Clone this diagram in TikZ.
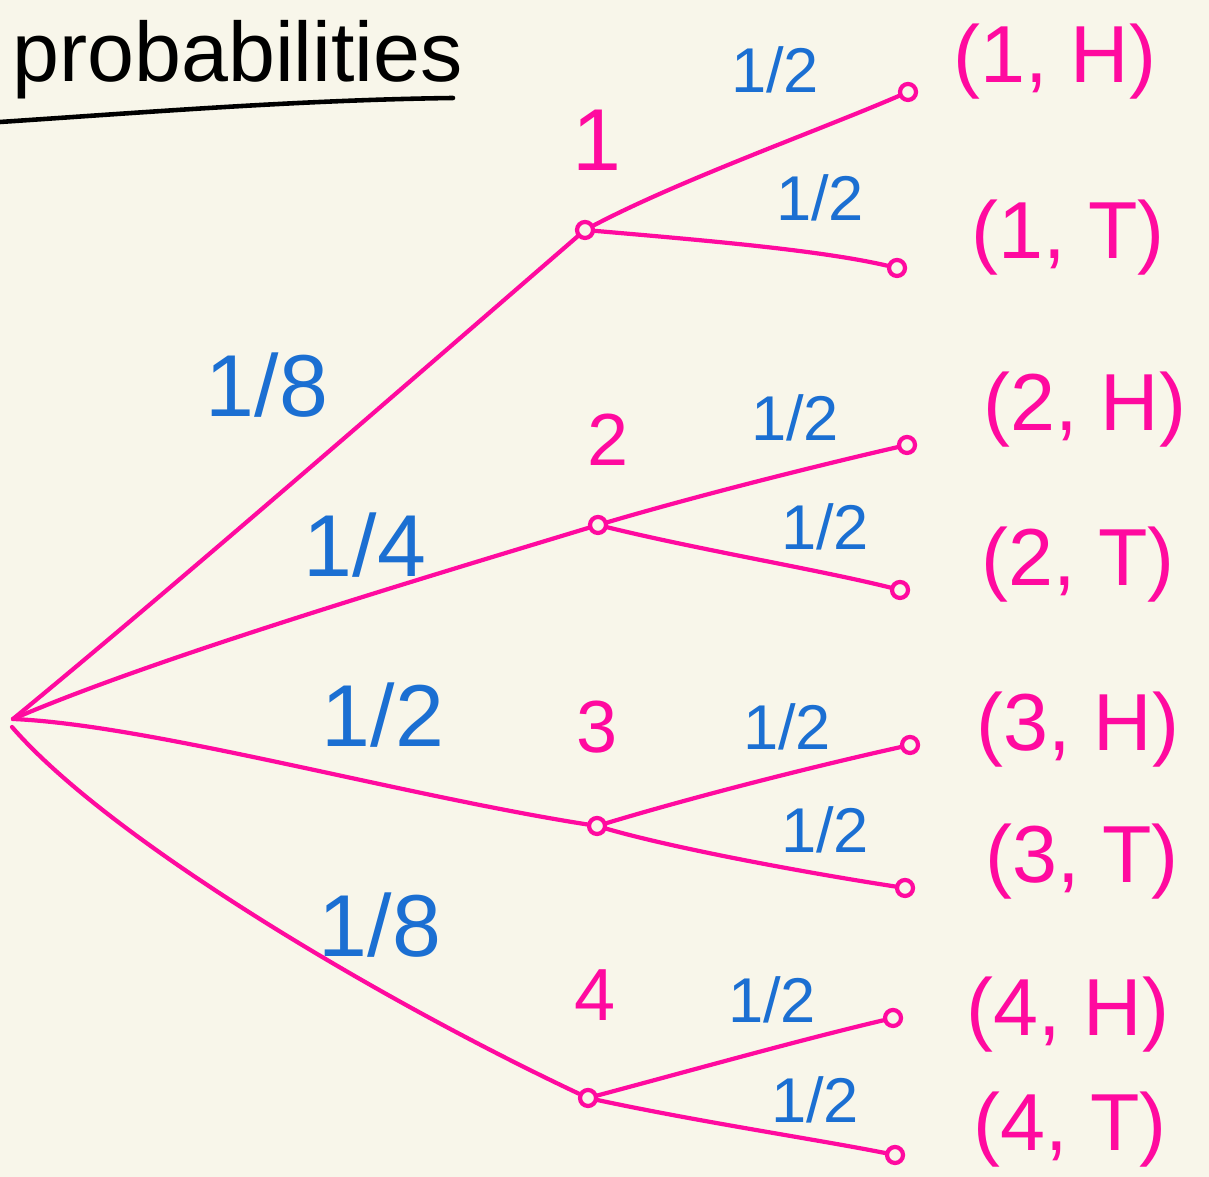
\documentclass[tikz,border=0pt]{standalone}
\usepackage{fontspec}
\setmainfont{Liberation Sans}
\usetikzlibrary{positioning}

\definecolor{paper}{HTML}{F8F6EA}
\definecolor{pinkline}{HTML}{FF0A9F}
\definecolor{blueink}{HTML}{1B6FD2}

\tikzset{
    branch/.style={pinkline, line width=1.2pt, line cap=round},
    dot/.style={circle, draw=pinkline, line width=1.2pt, fill=paper, inner sep=0pt, minimum size=0.16cm},
    prob/.style={text=blueink, font=\fontsize{18}{20}\selectfont},
    bigprob/.style={text=blueink, font=\fontsize{25}{27}\selectfont},
    outcome/.style={text=pinkline, font=\fontsize{23}{26}\selectfont},
    firstpick/.style={text=pinkline, font=\fontsize{21}{24}\selectfont}
}

\begin{document}
\begin{tikzpicture}[x=0.01cm, y=-0.01cm]
    \fill[paper] (0,0) rectangle (1209,1177);
    \useasboundingbox (0,0) rectangle (1209,1177);

    % title
    \node[anchor=base west, font=\fontsize{24}{26}\selectfont] (title) at (0,82) {probabilities};
    \draw[line width=1.3pt, line cap=round] (0,122) .. controls (150,112) and (300,100) .. (453,98);

    % root and first stage
    \coordinate (root) at (13,719);
    \coordinate (rootb) at (12,727);
    \node[dot] (n1) at (585,230) {};
    \node[dot] (n2) at (598,525) {};
    \node[dot] (n3) at (597,826) {};
    \node[dot] (n4) at (588,1098) {};

    % second stage
    \node[dot] (h1) at (908,92) {};
    \node[dot] (t1) at (897,268) {};
    \node[dot] (h2) at (907,445) {};
    \node[dot] (t2) at (900,590) {};
    \node[dot] (h3) at (910,745) {};
    \node[dot] (t3) at (905,888) {};
    \node[dot] (h4) at (893,1018) {};
    \node[dot] (t4) at (895,1155) {};

    \draw[branch] (root) .. controls (170,590) and (400,390) .. (n1);
    \draw[branch] (root) .. controls (150,660) and (400,585) .. (n2);
    \draw[branch] (root) .. controls (150,725) and (400,795) .. (n3);
    \draw[branch] (rootb) .. controls (110,840) and (380,1000) .. (n4);

    \draw[branch] (n1) .. controls (680,180) and (820,130) .. (h1);
    \draw[branch] (n1) .. controls (700,240) and (820,250) .. (t1);
    \draw[branch] (n2) .. controls (700,495) and (820,465) .. (h2);
    \draw[branch] (n2) .. controls (700,550) and (820,570) .. (t2);
    \draw[branch] (n3) .. controls (700,795) and (820,765) .. (h3);
    \draw[branch] (n3) .. controls (680,850) and (820,875) .. (t3);
    \draw[branch] (n4) .. controls (700,1068) and (800,1040) .. (h4);
    \draw[branch] (n4) .. controls (700,1122) and (820,1140) .. (t4);

    % first stage labels
    \node[firstpick, font=\fontsize{25}{28}\selectfont] (c1) at (597,140) {1};
    \node[firstpick] (c2) at (608,440) {2};
    \node[firstpick] (c3) at (597,727) {3};
    \node[firstpick] (c4) at (595,995) {4};

    \node[bigprob] (p1) at (267,385) {1/8};
    \node[bigprob] (p2) at (365,545) {1/4};
    \node[bigprob] (p3) at (383,715) {1/2};
    \node[bigprob] (p4) at (380,925) {1/8};

    % second stage labels
    \node[prob] (q1) at (775,70) {1/2};
    \node[prob] (q2) at (820,198) {1/2};
    \node[prob] (q3) at (795,418) {1/2};
    \node[prob] (q4) at (825,527) {1/2};
    \node[prob] (q5) at (787,727) {1/2};
    \node[prob] (q6) at (825,830) {1/2};
    \node[prob] (q7) at (772,1000) {1/2};
    \node[prob] (q8) at (815,1100) {1/2};

    % outcomes
    \node[outcome] (o1) at (1055,62) {(1, H)};
    \node[outcome] (o2) at (1068,238) {(1, T)};
    \node[outcome] (o3) at (1085,410) {(2, H)};
    \node[outcome] (o4) at (1078,565) {(2, T)};
    \node[outcome] (o5) at (1078,730) {(3, H)};
    \node[outcome] (o6) at (1082,862) {(3, T)};
    \node[outcome] (o7) at (1068,1015) {(4, H)};
    \node[outcome] (o8) at (1070,1130) {(4, T)};
\end{tikzpicture}
\end{document}
